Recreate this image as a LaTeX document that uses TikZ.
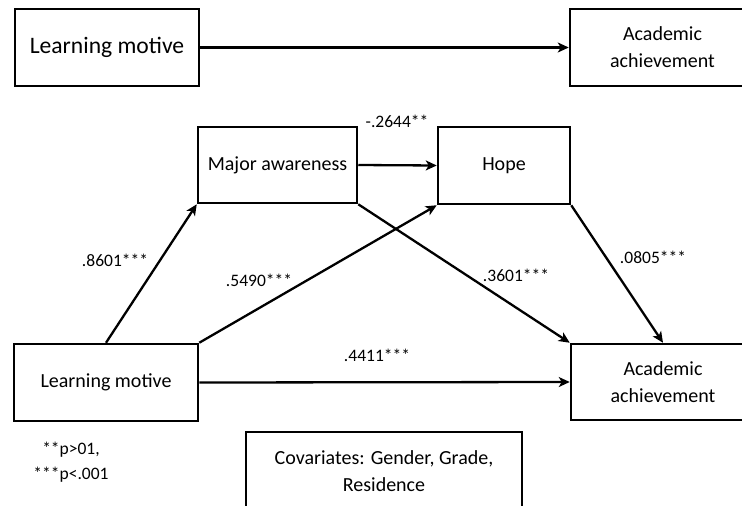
\documentclass[tikz,border=0pt]{standalone}
\usepackage{fontspec}
\setmainfont{Carlito}
\usetikzlibrary{arrows.meta}
\begin{document}
\begin{tikzpicture}[x=1pt,y=-1pt,
  box/.style={draw=black,line width=2.5pt,inner sep=0pt,align=center,
    font=\fontsize{20}{27}\selectfont},
  lbl/.style={inner sep=0pt,font=\fontsize{17.5}{24}\selectfont},
  conn/.style={line width=2.3pt,-{Stealth[length=11pt,width=10pt,inset=3pt]}}]
\useasboundingbox (0,0) rectangle (742,506);
% top row
\node[box,minimum width=184pt,minimum height=77pt,font=\fontsize{23.6}{28}\selectfont] (tLM) at (107,47.5) {Learning motive};
\node[box,minimum width=185pt,minimum height=77pt] (tAA) at (662.5,47.5) {Academic\\achievement};
\draw[conn] (tLM.east) -- (tAA.west);
% mediators
\node[box,minimum width=159pt,minimum height=76pt] (MA) at (277.5,165) {Major awareness};
\node[box,minimum width=132pt,minimum height=77pt] (HO) at (504,165.5) {Hope};
% bottom row
\node[box,minimum width=184pt,minimum height=77pt] (bLM) at (106,382.5) {Learning motive};
\node[box,minimum width=184pt,minimum height=76pt] (bAA) at (663,382) {Academic\\achievement};
\node[box,minimum width=276pt,minimum height=78pt] (COV) at (384,471) {Covariates: Gender, Grade,\\Residence};
% connectors
\draw[conn] (MA.east) -- (HO.west);
\draw[conn] (bLM.north) -- (MA.south west);
\draw[conn] (bLM.north east) -- (HO.south west);
\draw[conn] (MA.south east) -- (bAA.north west);
\draw[conn] (HO.south east) -- (bAA.north);
\draw[conn] (bLM.east) -- (bAA.west);
% labels
\node[lbl] (l1) at (397,121) {-.2644**};
\node[lbl] (l2) at (115,260) {.8601***};
\node[lbl] (l3) at (259,280) {.5490***};
\node[lbl] (l4) at (516,275) {.3601***};
\node[lbl] (l5) at (653,257) {.0805***};
\node[lbl] (l6) at (377,355) {.4411***};
\node[lbl,align=center,font=\fontsize{17.5}{25}\selectfont] (leg) at (71,462) {**p>01,\\***p<.001};
\end{tikzpicture}
\end{document}
